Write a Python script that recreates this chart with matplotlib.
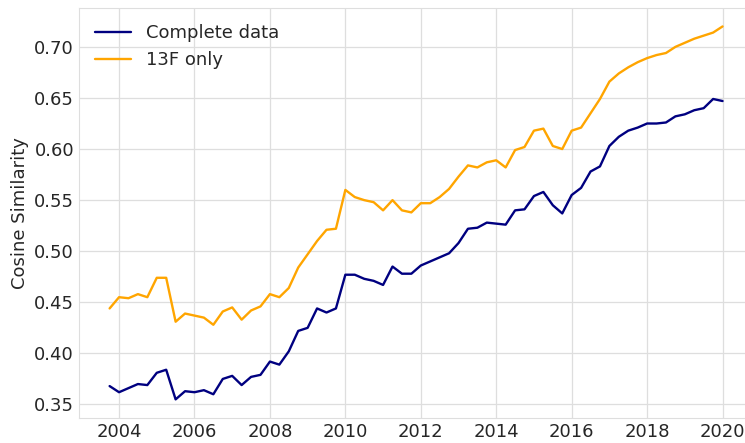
import matplotlib
matplotlib.use("Agg")
import matplotlib.pyplot as plt
import numpy as np
import seaborn as sns

# quarterly dates, 2003Q4 .. 2020Q1
dates = 2003.75 + 0.25 * np.arange(66)

complete_data = [
    0.368, 0.362, 0.366, 0.370, 0.369, 0.381, 0.384, 0.355, 0.363, 0.362,
    0.364, 0.360, 0.375, 0.378, 0.369, 0.377, 0.379, 0.392, 0.389, 0.402,
    0.422, 0.425, 0.444, 0.440, 0.444, 0.477, 0.477, 0.473, 0.471, 0.467,
    0.485, 0.478, 0.478, 0.486, 0.490, 0.494, 0.498, 0.508, 0.522, 0.523,
    0.528, 0.527, 0.526, 0.540, 0.541, 0.554, 0.558, 0.545, 0.537, 0.555,
    0.562, 0.578, 0.583, 0.603, 0.612, 0.618, 0.621, 0.625, 0.625, 0.626,
    0.632, 0.634, 0.638, 0.640, 0.649, 0.647,
]

only_13f = [
    0.444, 0.455, 0.454, 0.458, 0.455, 0.474, 0.474, 0.431, 0.439, 0.437,
    0.435, 0.428, 0.441, 0.445, 0.433, 0.442, 0.446, 0.458, 0.455, 0.464,
    0.484, 0.497, 0.510, 0.521, 0.522, 0.560, 0.553, 0.550, 0.548, 0.540,
    0.550, 0.540, 0.538, 0.547, 0.547, 0.553, 0.561, 0.573, 0.584, 0.582,
    0.587, 0.589, 0.582, 0.599, 0.602, 0.618, 0.620, 0.603, 0.600, 0.618,
    0.621, 0.635, 0.649, 0.666, 0.674, 0.680, 0.685, 0.689, 0.692, 0.694,
    0.700, 0.704, 0.708, 0.711, 0.714, 0.720,
]

sns.set_style("whitegrid")
plt.rcParams["font.family"] = ["DejaVu Sans"]
plt.rcParams["font.size"] = 13

fig = plt.figure(figsize=(7.45, 4.43), dpi=100)
ax = fig.add_axes([0.106, 0.0564, 0.905, 0.926])

ax.plot(dates, complete_data, color="navy", lw=1.7, label="Complete data")
ax.plot(dates, only_13f, color="orange", lw=1.7, label="13F only")

ax.set_ylabel("Cosine Similarity", fontsize=13)
ax.set_xticks(np.arange(2004, 2021, 2))
ax.tick_params(labelsize=13, length=0, pad=3.5)
ax.grid(color="#dedede", lw=0.9)
for spine in ax.spines.values():
    spine.set_color("#dedede")
ax.legend(loc="upper left", frameon=False, fontsize=13)

fig.savefig("out.png", dpi=100)
